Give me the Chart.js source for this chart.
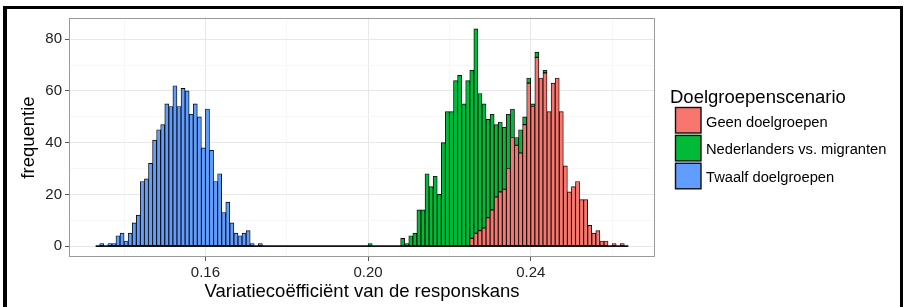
<!DOCTYPE html>
<html><head><meta charset="utf-8">
<script src="https://cdn.jsdelivr.net/npm/chart.js@4/dist/chart.umd.min.js"></script>
<style>
html,body{margin:0;padding:0;background:#fff;overflow:hidden}
#wrap{position:relative;width:906px;height:307px;background:#fff}
#frame{position:absolute;left:3px;top:6px;width:900px;height:400px;border-left:4px solid #000;border-top:3px solid #000;border-right:3px solid #000;pointer-events:none;box-sizing:border-box}
canvas{position:absolute;left:0;top:0}
</style></head><body>
<div id="wrap"><canvas id="c" width="906" height="307"></canvas><div id="frame"></div></div>
<script>
// ---- data ----
const binFirstEdge = 0.133;   // first (empty, padded) bin edge
const binLastEdge = 0.264;    // last (empty, padded) bin edge
const binWidth = 0.001;
const seriesLabels = ['Geen doelgroepen', 'Nederlanders vs. migranten', 'Twaalf doelgroepen'];
const seriesColors = ['#F8766D', '#00BA38', '#619CFF'];
const geenStart = 0.225;
const geenCounts = [3,5,6,7,11,14,19,21,22,30,42,39,36,47,63,54,73,65,67,52,63,65,52,31,21,23,25,18,18,8,5,6,2,2,0,1,0,1];
const nedStart = 0.200;
const nedCounts = [1,0,0,0,0,0,0,0,3,1,4,5,14,14,28,23,27,20,40,52,52,64,66,55,64,65,79,53,48,38,37,28,27,24,21,11,3,9,3,2,1,2,0,1];
const twaalfStart = 0.134;
const twaalfCounts = [1,0,1,1,4,5,2,5,9,12,25,26,32,41,45,47,55,54,62,54,61,60,51,55,50,38,53,37,25,28,13,17,9,5,4,5,6,1,0,1];
const xTickLabels = [0.16, 0.20, 0.24];
const yTickLabels = [0, 20, 40, 60, 80];
const xTitle = 'Variatiecoëfficiënt van de responskans';
const yTitle = 'frequentie';
const legendTitle = 'Doelgroepenscenario';

// ---- build ----
const FONT = '"Liberation Sans", Arial, sans-serif';
const nBins = Math.round((binLastEdge - binFirstEdge) / binWidth);
function buildSeries(start, counts) {
  const arr = [];
  for (let i = 0; i < nBins; i++) arr.push({x: +(binFirstEdge + (i + 0.5) * binWidth).toFixed(6), y: 0});
  const off = Math.round((start - binFirstEdge) / binWidth);
  counts.forEach((c, j) => { arr[off + j].y = c; });
  return arr;
}
const seriesData = [buildSeries(geenStart, geenCounts), buildSeries(nedStart, nedCounts), buildSeries(twaalfStart, twaalfCounts)];
let maxTotal = 0;
for (let i = 0; i < nBins; i++) {
  const t = seriesData[0][i].y + seriesData[1][i].y + seriesData[2][i].y;
  if (t > maxTotal) maxTotal = t;
}
const xRange = binLastEdge - binFirstEdge;
const xMin = binFirstEdge - 0.05 * xRange, xMax = binLastEdge + 0.05 * xRange;
const yMin = -0.05 * maxTotal, yMax = 1.05 * maxTotal;
const near = (v, list) => list.some(t => Math.abs(v - t) < 1e-6);

const datasets = seriesData.map((d, i) => ({
  type: 'bar', label: seriesLabels[i], data: d,
  backgroundColor: seriesColors[i], borderColor: '#0a0a0a', borderWidth: 0.9,
  borderSkipped: false, categoryPercentage: 1, barPercentage: 1, stack: 'hist'
}));
datasets.push({
  type: 'line', label: 'baseline', isBaseline: true, stack: 'base',
  data: [{x: binFirstEdge, y: 0}, {x: binLastEdge, y: 0}],
  borderColor: '#111', borderWidth: 1.6, pointRadius: 0, fill: false
});

const framePlugin = {
  id: 'panelAndLegend',
  afterDraw(chart) {
    const {ctx, chartArea: a} = chart;
    ctx.save();
    ctx.strokeStyle = '#9a9a9a'; ctx.lineWidth = 1;
    ctx.strokeRect(a.left + 0.5, a.top + 0.5, a.right - a.left - 1, a.bottom - a.top - 1);
    // legend
    ctx.fillStyle = '#000';
    ctx.textBaseline = 'alphabetic';
    ctx.font = '18.5px ' + FONT;
    ctx.fillText(legendTitle, 670, 102.5);
    chart.data.datasets.filter(d => !d.isBaseline).forEach((d, i) => {
      const y0 = 107 + i * 27.9;
      ctx.fillStyle = d.backgroundColor;
      ctx.fillRect(675, y0, 26, 26);
      ctx.strokeStyle = '#111'; ctx.lineWidth = 1.4;
      ctx.strokeRect(675.5, y0 + 0.5, 25.5, 25.5);
      ctx.fillStyle = '#000';
      ctx.font = '14.7px ' + FONT;
      ctx.fillText(d.label, 706, y0 + 19.5);
    });
    ctx.restore();
  }
};

new Chart(document.getElementById('c'), {
  data: {datasets},
  options: {
    responsive: false, animation: false, devicePixelRatio: 1,
    layout: {padding: {left: 0, top: 18, right: 251, bottom: 0}},
    plugins: {legend: {display: false}, tooltip: {enabled: false}},
    scales: {
      x: {
        type: 'linear', stacked: true, offset: false, min: xMin, max: xMax,
        grid: {offset: false, lineWidth: 1, tickLength: 4,
          color: c => near(c.tick.value, xTickLabels) ? '#e8e8e8' : '#f7f7f7',
          tickColor: c => near(c.tick.value, xTickLabels) ? '#555' : 'rgba(0,0,0,0)'},
        border: {display: false},
        ticks: {stepSize: 0.02, includeBounds: false, autoSkip: false, maxRotation: 0, padding: 3,
          color: '#222', font: {family: FONT, size: 15},
          callback: v => near(v, xTickLabels) ? v.toFixed(2) : ''},
        title: {display: true, text: xTitle, color: '#000', font: {family: FONT, size: 18.5}, padding: {top: 0, bottom: 4}},
        afterFit: s => { s.height = 50; }
      },
      y: {
        type: 'linear', stacked: true, min: yMin, max: yMax,
        grid: {lineWidth: 1, tickLength: 4,
          color: c => near(c.tick.value, yTickLabels) ? '#e8e8e8' : '#f7f7f7',
          tickColor: c => near(c.tick.value, yTickLabels) ? '#555' : 'rgba(0,0,0,0)'},
        border: {display: false},
        ticks: {stepSize: 10, includeBounds: false, autoSkip: false, padding: 3,
          color: '#222', font: {family: FONT, size: 15},
          callback: v => near(v, yTickLabels) ? String(v) : ''},
        title: {display: true, text: yTitle, color: '#000', font: {family: FONT, size: 18.5}, padding: {top: 17.5, bottom: 0}},
        afterFit: s => { s.width = 69; }
      }
    }
  },
  plugins: [framePlugin]
});
</script>
</body></html>
